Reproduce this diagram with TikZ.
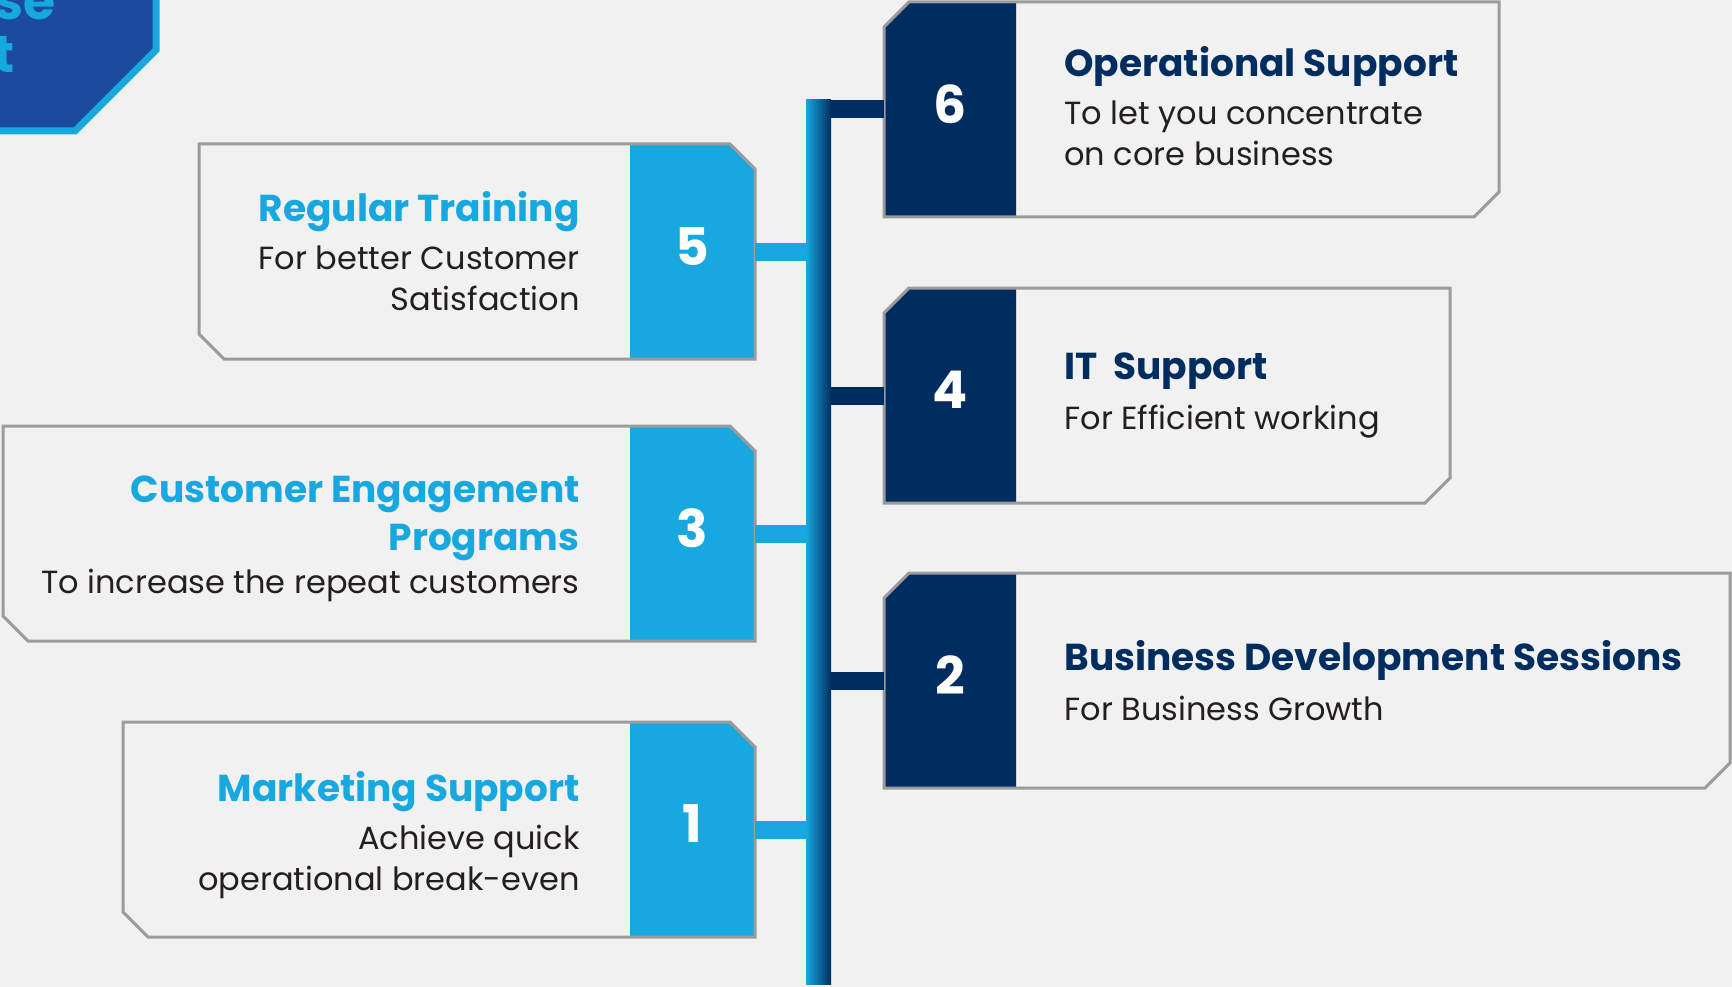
\documentclass[tikz,border=0pt]{standalone}
\usepackage{fontspec}
\setmainfont{Poppins}
\usetikzlibrary{positioning}
\definecolor{bg}{HTML}{F1F1F1}
\definecolor{cyanblue}{HTML}{18A8E0}
\definecolor{navy}{HTML}{002D5F}
\definecolor{badgefill}{HTML}{1C4A9C}
\definecolor{edge}{HTML}{9B9B9E}
\definecolor{ink}{HTML}{231F20}
\newcommand\titlefont{\fontsize{37.5}{48}\selectfont\bfseries}
\newcommand\subfont{\fontsize{32}{41}\selectfont}
\newcommand\numfont{\fontsize{52}{60}\selectfont\bfseries}
\newcommand\titleL[1]{{\titlefont\color{cyanblue}#1}}
\newcommand\titleR[1]{{\titlefont\color{navy}#1}}
\tikzstyle{every node}=[inner sep=0pt,node distance=50pt]
\tikzstyle{numbox} = [rectangle, minimum height=215pt, text depth=11pt, text=white, font=\numfont]
\tikzstyle{numL} = [numbox, minimum width=125pt]
\tikzstyle{numR} = [numbox, minimum width=132pt]
\tikzstyle{textL} = [align=right, font=\subfont, text=ink]
\tikzstyle{textR} = [align=left, font=\subfont, text=ink]
\tikzstyle{outline} = [draw=edge, line width=3pt, line join=miter]
\tikzstyle{linkL} = [draw=cyanblue, line width=18pt]
\tikzstyle{linkR} = [draw=navy, line width=18pt]
\tikzstyle{spine} = [rectangle, minimum width=25pt, minimum height=884pt, left color=cyanblue, right color=navy]
\tikzstyle{badge text} = [font=\fontsize{52}{53}\selectfont\bfseries, text=cyanblue]

\begin{document}
\begin{tikzpicture}[x=1pt,y=-1pt]
\path[use as bounding box] (0,0) rectangle (1732,987);
\clip (0,0) rectangle (1732,987);
\fill[bg] (0,0) rectangle (1732,987);

% corner badge
\filldraw[fill=badgefill, draw=cyanblue, line width=7pt] (-10,-10) -- (156,-10) -- (156,50) -- (75,131) -- (-10,131) -- cycle;
\node (badgeA) [badge text, anchor=base east] at (56,20) {Franchise};
\node (badgeB) [badge text, anchor=base east] at (15,73) {Support};

% spine
\node (spine) [spine] at (818.5,542) {};

% 6
\fill[navy] (884,217) -- (884,27) -- (909,2) -- (1016,2) -- (1016,217) -- cycle;
\draw[outline] (884,27) -- (909,2) -- (1499,2) -- (1499,192) -- (1474,217) -- (884,217) -- cycle;
\node (num6) [numR] at (950,109.5) {6};
\node (txt6) [textR, right=48pt of num6, yshift=3pt] {\titleR{Operational Support}\\[7pt] To let you concentrate\\ on core business};
\draw[linkR] (spine.east |- num6.west) -- (num6.west);

% 5
\fill[cyanblue] (630,144) -- (730,144) -- (755,169) -- (755,359) -- (630,359) -- cycle;
\draw[outline] (199,144) -- (730,144) -- (755,169) -- (755,359) -- (224,359) -- (199,334) -- cycle;
\node (num5) [numL] at (692.5,251.5) {5};
\node (txt5) [textL, left=50pt of num5] {\titleL{Regular Training}\\[7pt] For better Customer\\ Satisfaction};
\draw[linkL] (num5.east) -- (spine.west |- num5.east);

% 4
\fill[navy] (884,503) -- (884,313) -- (909,288) -- (1016,288) -- (1016,503) -- cycle;
\draw[outline] (884,313) -- (909,288) -- (1450,288) -- (1450,478) -- (1425,503) -- (884,503) -- cycle;
\node (num4) [numR] at (950,395.5) {4};
\node (txt4) [textR, right=48pt of num4] {\titleR{IT\ \ Support}\\[9pt] For Efficient working};
\draw[linkR] (spine.east |- num4.west) -- (num4.west);

% 3
\fill[cyanblue] (630,426) -- (730,426) -- (755,451) -- (755,641) -- (630,641) -- cycle;
\draw[outline] (3,426) -- (730,426) -- (755,451) -- (755,641) -- (28,641) -- (3,616) -- cycle;
\node (num3) [numL] at (692.5,533.5) {3};
\node (txt3) [textL, left=50pt of num3, yshift=-5pt] {\titleL{Customer Engagement}\\[7pt] \titleL{Programs}\\[2pt] To increase the repeat customers};
\draw[linkL] (num3.east) -- (spine.west |- num3.east);

% 2
\fill[navy] (884,788) -- (884,598) -- (909,573) -- (1016,573) -- (1016,788) -- cycle;
\draw[outline] (884,598) -- (909,573) -- (1730,573) -- (1730,763) -- (1705,788) -- (884,788) -- cycle;
\node (num2) [numR] at (950,680.5) {2};
\node (txt2) [textR, right=48pt of num2] {\titleR{Business Development Sessions}\\[9pt] For Business Growth};
\draw[linkR] (spine.east |- num2.west) -- (num2.west);

% 1
\fill[cyanblue] (630,722) -- (730,722) -- (755,747) -- (755,937) -- (630,937) -- cycle;
\draw[outline] (123,722) -- (730,722) -- (755,747) -- (755,937) -- (148,937) -- (123,912) -- cycle;
\node (num1) [numL] at (692.5,829.5) {1};
\node (txt1) [textL, left=50pt of num1, yshift=-6pt] {\titleL{Marketing Support}\\[7pt] Achieve quick\\ operational break-even};
\draw[linkL] (num1.east) -- (spine.west |- num1.east);

\end{tikzpicture}
\end{document}
